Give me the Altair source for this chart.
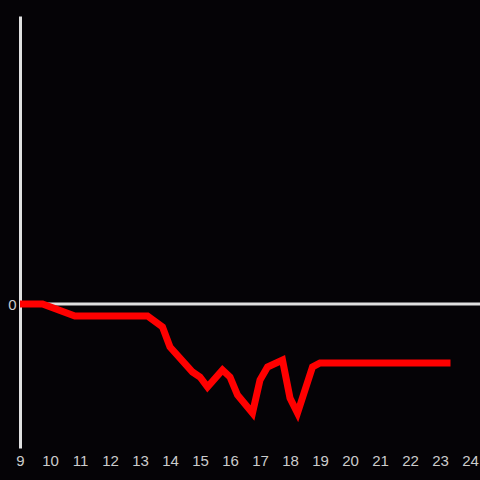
import altair as alt
import pandas as pd

hours = [9.0, 9.75, 10.83, 13.25, 13.75, 14.0, 14.75, 15.0, 15.25, 15.75, 16.0, 16.25,
         16.75, 17.0, 17.25, 17.75, 18.0, 18.25, 18.75, 19.0, 23.35]
values = [0, 0, -12, -12, -23, -43, -68, -73, -83, -66, -73, -91,
          -109, -76, -63, -56, -94, -109, -63, -59, -59]
x_ticks = list(range(9, 25))

df = pd.DataFrame({"hour": hours, "value": values})

BG = "#050306"

zero = alt.Chart(pd.DataFrame({"y": [0]})).mark_rule(color="#e0e0e0", strokeWidth=3).encode(
    y=alt.Y("y:Q", scale=alt.Scale(domain=[-144, 288])),
    x=alt.value(0),
    x2=alt.value(460),
)

line = alt.Chart(df).mark_line(color="#ff0000", strokeWidth=7, strokeCap="butt", strokeJoin="miter").encode(
    x=alt.X("hour:Q", scale=alt.Scale(domain=[9, 24], nice=False),
            axis=alt.Axis(values=x_ticks, title=None, ticks=False, domain=False, grid=False,
                          labelColor="#cccccc", labelFontSize=15, labelPadding=5,
                          labelFont="Liberation Sans", labelFlush=False)),
    y=alt.Y("value:Q", scale=alt.Scale(domain=[-144, 288], nice=False),
            axis=alt.Axis(values=[0], title=None, ticks=False, grid=False, domain=True,
                          domainColor="#e0e0e0", domainWidth=3,
                          labelColor="#cccccc", labelFontSize=15, labelPadding=4,
                          labelFont="Liberation Sans")),
)

chart = alt.layer(zero, line).properties(
    width=450, height=432, background=BG,
    autosize=alt.AutoSizeParams(type="none"),
    padding={"left": 20, "top": 16, "right": 10, "bottom": 32},
).configure_view(stroke=None)

chart.save("out.html", embed_options={"renderer": "svg", "actions": False,
                                      "defaultStyle": "body{margin:0;background:#050306;overflow:hidden}"})
